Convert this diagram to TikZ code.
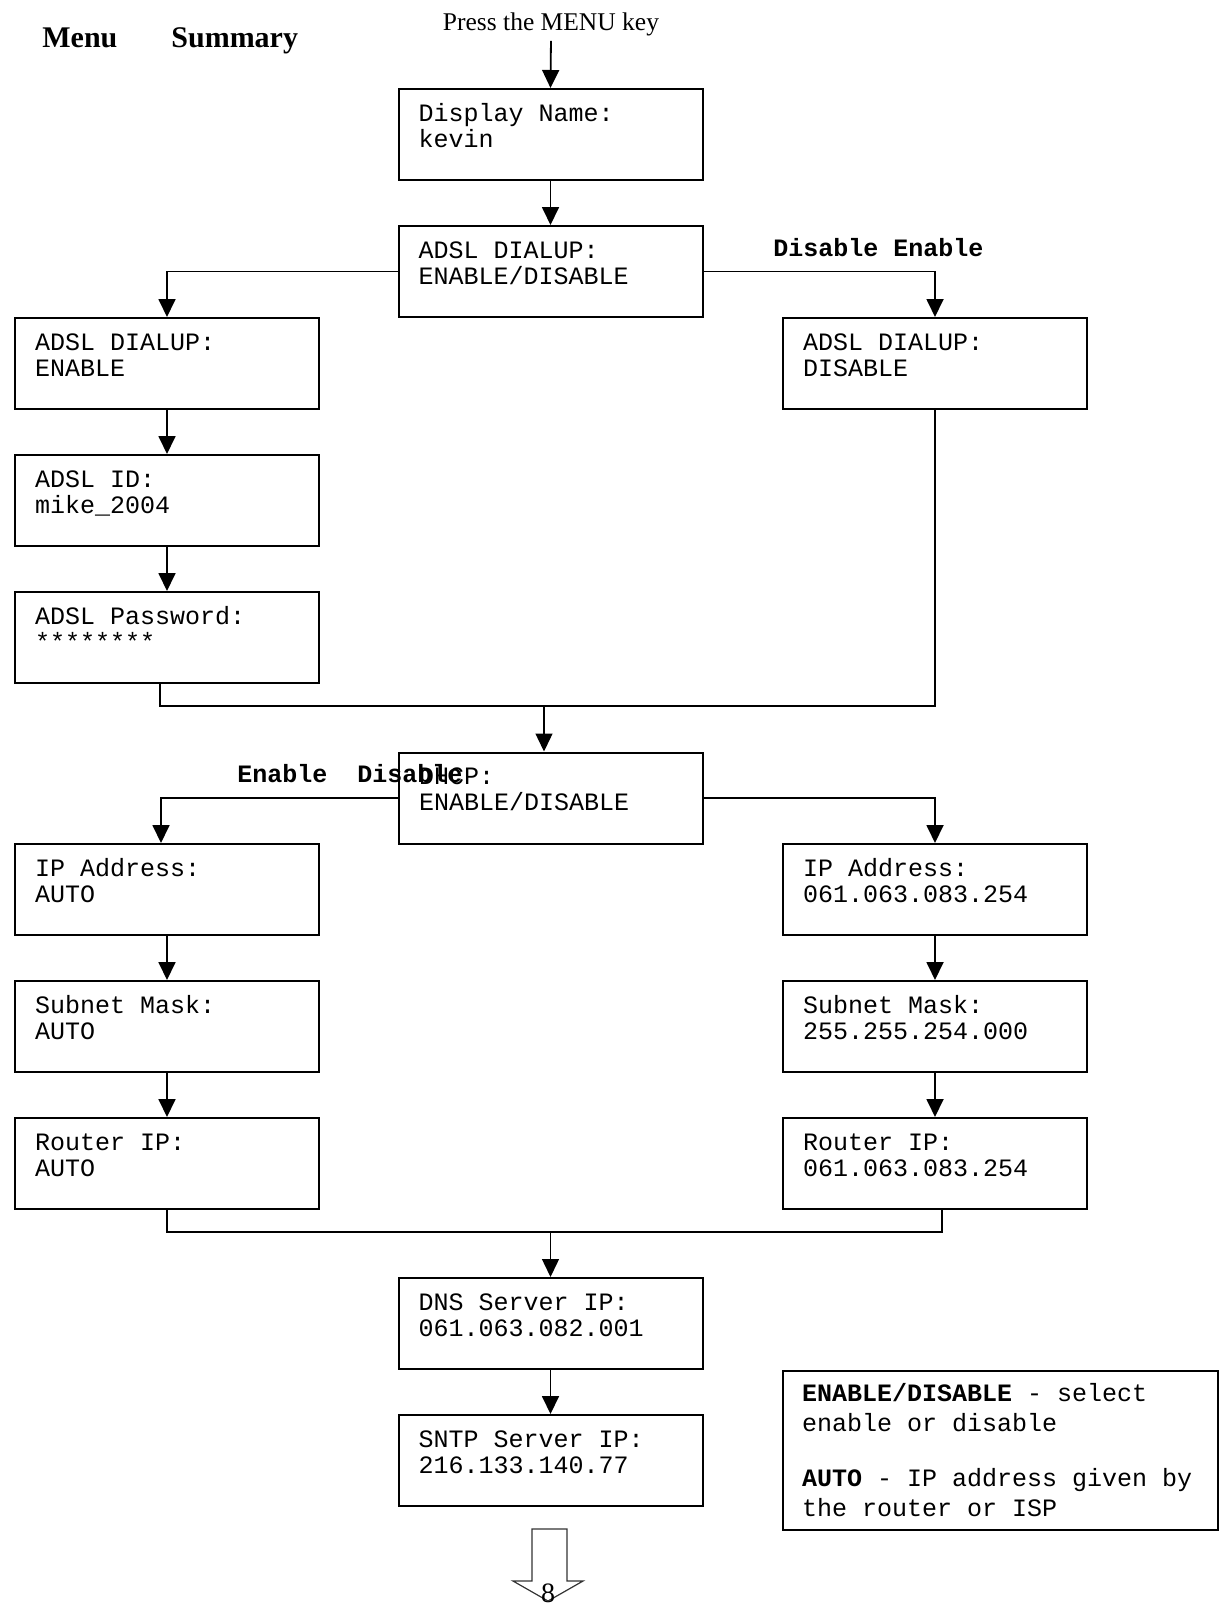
\documentclass[tikz,border=0pt]{standalone}
\usepackage{fontspec}
\setmainfont{Liberation Serif}
\setmonofont{Liberation Mono}
\usetikzlibrary{arrows.meta, calc}
\tikzstyle{lcd} = [draw, rectangle, line width=1pt, inner xsep=10pt, inner ysep=0pt, text width=132pt, align=flush left, text height=16pt, text depth=29.5pt, font=\ttfamily\fontsize{12.5}{13}\selectfont]
\tikzstyle{legendbox} = [draw, rectangle, line width=1.2pt, inner xsep=9.5pt, inner ysep=0pt, text width=198.5pt, align=flush left, text height=15pt, text depth=64.5pt, font=\ttfamily\fontsize{12.5}{15}\selectfont]
\tikzstyle{choice} = [inner sep=0pt, anchor=base west, font=\ttfamily\bfseries\fontsize{12.5}{13}\selectfont]
\tikzstyle{heading} = [inner sep=0pt, anchor=base west, font=\bfseries\fontsize{15}{18}\selectfont]
\tikzstyle{wire} = [-{Triangle[length=9pt,width=8.5pt]}, line width=0.9pt]
\tikzstyle{merge} = [line width=0.7pt]

\begin{document}
\begin{tikzpicture}[x=0.5pt, y=-0.5pt, node distance=68.5pt]
    \useasboundingbox (0,0) rectangle (1223,1606);
    \node[heading] (menu) at (42,47) {Menu};
    \node[heading] (summ) at (171,47) {Summary};
    \node[inner sep=0pt, anchor=base, font=\fontsize{12.75}{14}\selectfont] (press) at (551,31) {Press the MENU key};

    % ADSL part
    \node[lcd] (disp) at (550.5,134.5) {Display Name:\\kevin};
    \node[lcd, below of=disp] (dial) {ADSL DIALUP:\\ENABLE/DISABLE};
    \node[lcd] (en) at (167,363.5) {ADSL DIALUP:\\ENABLE};
    \node[lcd, below of=en] (id) {ADSL ID:\\mike\_2004};
    \node[lcd, below of=id] (pw) {ADSL Password:\\{********}};
    \node[lcd, right of=en, node distance=384pt] (dis) {ADSL DIALUP:\\DISABLE};
    \node[choice] (dialsel) at (773,256) {Disable Enable};

    % DHCP part
    \node[lcd] (dhcp) at (551,798) {DHCP:\\ENABLE/DISABLE};
    \node[choice] (dhcpsel) at (237,782) {Enable\ \ Disable};
    \node[lcd] (ipl) at (167,889.5) {IP Address:\\AUTO};
    \node[lcd, below of=ipl] (mskl) {Subnet Mask:\\AUTO};
    \node[lcd, below of=mskl] (rtl) {Router IP:\\AUTO};
    \node[lcd, right of=ipl, node distance=384pt] (ipr) {IP Address:\\061.063.083.254};
    \node[lcd, below of=ipr] (mskr) {Subnet Mask:\\255.255.254.000};
    \node[lcd, below of=mskr] (rtr) {Router IP:\\061.063.083.254};

    \node[lcd] (dns) at (550.5,1323.5) {DNS Server IP:\\061.063.082.001};
    \node[lcd, below of=dns] (sntp) {SNTP Server IP:\\216.133.140.77};

    \node[legendbox] (legend) at (1000.5,1450.5) {\textbf{ENABLE/DISABLE} - select\\enable or disable\\[12.5pt]\textbf{AUTO} - IP address given by\\the router or ISP};

    \coordinate (merge1) at (544,706);
    \coordinate (merge2) at (550.5,1232);

    \draw[wire, shorten <=2pt] (press.south) -- (disp.north);
    \draw[wire] (disp) -- (dial);
    \draw[wire] (dial.west) -| (en.north);
    \draw[wire] (dial.east) -| (dis.north);
    \draw[wire] (en) -- (id);
    \draw[wire] (id) -- (pw);
    \draw[merge] ([xshift=-3.5pt]pw.south) |- (merge1) -| (dis.south);
    \draw[wire, line width=0.7pt] (merge1) -- (merge1 |- dhcp.north);

    \draw[wire] (dhcp.west) -| ([xshift=-3pt]ipl.north);
    \draw[wire] (dhcp.east) -| (ipr.north);
    \draw[wire] (ipl) -- (mskl);
    \draw[wire] (mskl) -- (rtl);
    \draw[wire] (ipr) -- (mskr);
    \draw[wire] (mskr) -- (rtr);
    \draw[merge] (rtl.south) |- (merge2) -| ([xshift=3.5pt]rtr.south);
    \draw[wire, line width=0.7pt] (merge2) -- (dns.north);
    \draw[wire] (dns) -- (sntp);

    % next page arrow
    \draw[line width=0.6pt, black!80] (532,1529) -- (567,1529) -- (567,1581) -- (583,1581) -- (548,1601) -- (513,1581) -- (532,1581) -- cycle;
    \node[inner sep=0pt, anchor=north, font=\fontsize{14}{14}\selectfont] (page) at (548,1583) {8};
\end{tikzpicture}
\end{document}
